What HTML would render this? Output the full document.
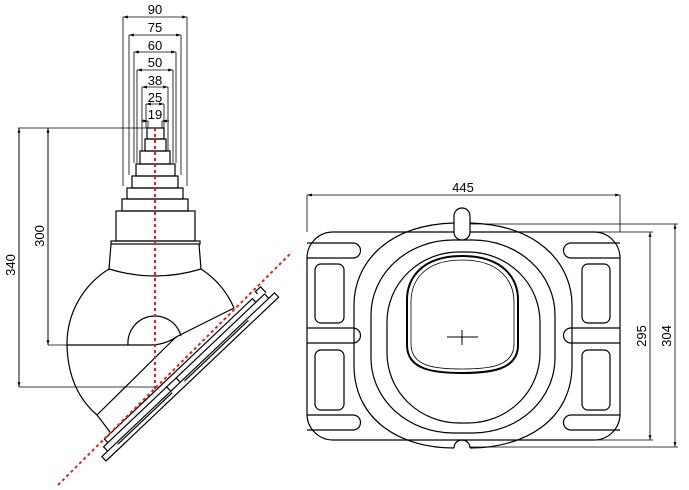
<!DOCTYPE html>
<html><head><meta charset="utf-8"><style>html,body{margin:0;padding:0;background:#fff}svg{display:block}</style></head>
<body>
<svg width="689" height="490" viewBox="0 0 689 490" xmlns="http://www.w3.org/2000/svg" font-family="Liberation Sans, sans-serif" font-size="13">
<defs>
<marker id="a" viewBox="0 0 10 10" refX="10" refY="5" markerWidth="6" markerHeight="6" orient="auto-start-reverse"><path d="M0,2 L10,5 L0,8 z" fill="#000"/></marker>
</defs>
<g stroke="#000" stroke-width="0.8" fill="none">
<path d="M123,17V186 M187,17V186 M129,35V175 M181,35V175 M134,52V163 M176,52V163 M137,70V163 M173,70V163 M142,87V151 M168,87V151 M146,104V128 M164,104V128 M148,121V128 M162,121V128"/>
<line x1="123" y1="17" x2="187" y2="17" marker-start="url(#a)" marker-end="url(#a)"/>
<line x1="129" y1="35" x2="181" y2="35" marker-start="url(#a)" marker-end="url(#a)"/>
<line x1="134" y1="52" x2="176" y2="52" marker-start="url(#a)" marker-end="url(#a)"/>
<line x1="137" y1="70" x2="173" y2="70" marker-start="url(#a)" marker-end="url(#a)"/>
<line x1="142" y1="87" x2="168" y2="87" marker-start="url(#a)" marker-end="url(#a)"/>
<line x1="146" y1="104" x2="164" y2="104" marker-start="url(#a)" marker-end="url(#a)"/>
<line x1="141" y1="121" x2="148" y2="121" marker-end="url(#a)"/>
<line x1="169" y1="121" x2="162" y2="121" marker-end="url(#a)"/>
<path d="M18,128H147 M48,345H67 M19,387H155"/>
<line x1="48" y1="345" x2="48" y2="128" marker-end="url(#a)"/>
<line x1="48" y1="128" x2="48" y2="345" marker-end="url(#a)"/>
<line x1="19" y1="387" x2="19" y2="128" marker-end="url(#a)"/>
<line x1="19" y1="128" x2="19" y2="387" marker-end="url(#a)"/>
</g>
<g stroke="#000" stroke-width="1.2" fill="none">
<rect x="147" y="128" width="17" height="11"/>
<rect x="145" y="139" width="21" height="12"/>
<rect x="140" y="151" width="30" height="13"/>
<rect x="136" y="164" width="39" height="12"/>
<rect x="132" y="176" width="46" height="12"/>
<rect x="127" y="188" width="56" height="11"/>
<rect x="122" y="199" width="66" height="12"/>
<rect x="116" y="211" width="79" height="30"/>
<rect x="111" y="241" width="89" height="3"/>
<path d="M111,244 L109,269 Q155,283 201,269 L199,244"/>
<path d="M109,269 A88,88 0 0 0 67,345 H150 Q165,345 178,336 L234,308 A88,88 0 0 0 201,269"/>
<path d="M128,345 A27,27 0 0 1 181,336"/>
<path d="M67,345 Q68,390 97,415 L110,432 M97,415 L176,337"/>
<g transform="translate(106,461) rotate(-43.5)">
<rect x="0" y="-6" width="238" height="6"/>
<path d="M8,-6 V-12 H230 V-6"/>
<path d="M14,-12 V-17 H218 V-12"/>
<path d="M20,-4 H95 M112,-4 H200"/>
<path d="M95,-12 V-6 M108,-12 V-6"/>
<path d="M225,-17 V-20 H232 V-12"/>
</g>
<!-- right view -->
<rect x="307" y="232" width="313" height="208" rx="26" ry="26"/>
<path d="M454,223 C385,225 354,265 354,305 V365 C354,420 400,448 454,448 M470,223 C540,225 572,265 572,305 V365 C572,420 525,448 470,448 M454,448 A8,8 0 0 1 470,448"/>
<rect x="371" y="240" width="184" height="193" rx="82" ry="75"/>
<rect x="387" y="252" width="153" height="171" rx="72" ry="70"/>
<path d="M462,256 C505,256 518,280 518,300 V345 C518,370 490,373 462,373 C434,373 407,370 407,345 V300 C407,280 420,256 462,256 Z" stroke-width="2"/>
<path d="M462,260 C501,260 514,282 514,302 V344 C514,367 488,369 462,369 C436,369 411,367 411,344 V302 C411,282 423,260 462,260 Z" stroke-width="0.8"/>
<rect x="454" y="208" width="16" height="32" rx="8" fill="#fff"/>
<path d="M447,337 H478 M462,330 V345" stroke-width="1"/>
<path d="M307,243 H353 A7.5,7.5 0 0 1 353,258 H307 M307,328 H353 A7.5,7.5 0 0 1 353,343 H307 M307,415 H353 A7.5,7.5 0 0 1 353,430 H307"/>
<path d="M620,243 H571 A7.5,7.5 0 0 0 571,258 H620 M620,328 H571 A7.5,7.5 0 0 0 571,343 H620 M620,415 H571 A7.5,7.5 0 0 0 571,430 H620"/>
<rect x="315" y="264" width="29" height="59" rx="6"/>
<rect x="315" y="350" width="29" height="60" rx="6"/>
<rect x="582" y="264" width="28" height="59" rx="6"/>
<rect x="582" y="350" width="28" height="60" rx="6"/>
</g>
<g stroke="#000" stroke-width="0.8" fill="none">
<path d="M307,195V232 M620,195V232 M470,224H678 M590,232H653 M590,440H653 M470,447H678"/>
<line x1="307" y1="195" x2="620" y2="195" marker-start="url(#a)" marker-end="url(#a)"/>
<line x1="650" y1="232" x2="650" y2="440" marker-start="url(#a)" marker-end="url(#a)"/>
<line x1="675" y1="224" x2="675" y2="447" marker-start="url(#a)" marker-end="url(#a)"/>
</g>
<g stroke="#e02020" stroke-width="2" stroke-dasharray="3,3" fill="none">
<line x1="155" y1="128" x2="155" y2="390"/>
<line x1="58" y1="485" x2="292" y2="252"/>
</g>
<g fill="#000" text-anchor="middle">
<text x="155" y="14">90</text><text x="155" y="32">75</text><text x="155" y="50">60</text><text x="155" y="67">50</text><text x="155" y="85">38</text><text x="155" y="102">25</text><text x="155" y="119">19</text>
<text x="463" y="192">445</text>
<text transform="translate(44,236) rotate(-90)">300</text>
<text transform="translate(15,265) rotate(-90)">340</text>
<text transform="translate(646,336) rotate(-90)">295</text>
<text transform="translate(671,336) rotate(-90)">304</text>
</g>
</svg>
</body></html>
